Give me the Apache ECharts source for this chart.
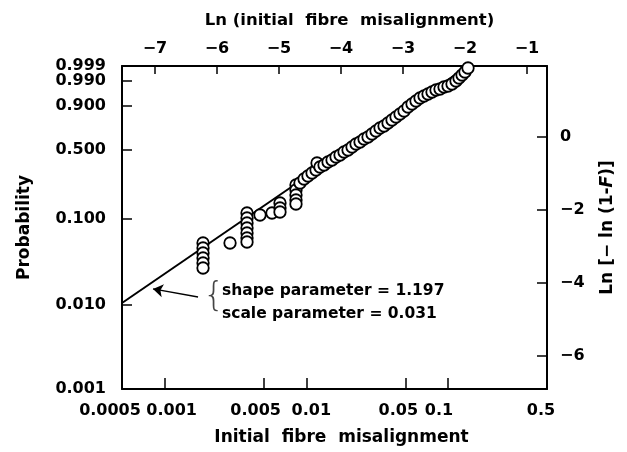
<!DOCTYPE html>
<html>
<head>
<meta charset="utf-8">
<script src="https://cdn.jsdelivr.net/npm/echarts@6/dist/echarts.min.js"></script>
<style>
  html, body { margin: 0; padding: 0; background: #fff; }
  #chart { width: 627px; height: 452px; }
</style>
</head>
<body>
<div id="chart"></div>
<script>
// tick labels
const misalignLabels = ['0.0005', '0.001', '0.005', '0.01', '0.05', '0.1', '0.5'];
const probLabels = ['0.001', '0.010', '0.100', '0.500', '0.900', '0.990', '0.999'];
const lnMisalignTicks = [-7, -6, -5, -4, -3, -2, -1];
const weibullTicks = [-6, -4, -2, 0];
// the printed ln scale on top is drawn slightly offset from the bottom one
const topAxisRange = [-7.532, -0.677];

// measured points: ln(misalignment) and ln[-ln(1-F)]
const pointsLnX = [
  -6.284, -6.284, -6.284, -6.284, -6.284, -6.284,
  -5.845,
  -5.569, -5.569, -5.569, -5.569, -5.569, -5.569, -5.569,
  -5.358, -5.163,
  -5.033, -5.033, -5.033,
  -4.773, -4.773, -4.773, -4.773, -4.773,
  -4.708, -4.642, -4.578, -4.512, -4.447, -4.431, -4.383, -4.317, -4.252, -4.187,
  -4.122, -4.057, -3.992, -3.927, -3.862, -3.797, -3.732, -3.667, -3.602, -3.537,
  -3.472, -3.407, -3.342, -3.277, -3.212, -3.147, -3.082, -3.017, -2.952, -2.887,
  -2.822, -2.757, -2.692, -2.627, -2.562, -2.497, -2.432, -2.367, -2.302, -2.237,
  -2.172, -2.123, -2.074, -2.026, -1.977
];
const pointsLnY = [
  -2.911, -3.048, -3.185, -3.322, -3.459, -3.596,
  -2.911,
  -2.091, -2.227, -2.364, -2.501, -2.638, -2.775, -2.884,
  -2.145, -2.091,
  -1.817, -1.953, -2.063,
  -1.324, -1.461, -1.598, -1.734, -1.844,
  -1.269, -1.160, -1.078, -0.996, -0.914, -0.722, -0.831, -0.777, -0.695, -0.640,
  -0.558, -0.503, -0.421, -0.366, -0.284, -0.202, -0.147, -0.065, -0.010, 0.072,
  0.154, 0.236, 0.291, 0.373, 0.455, 0.537, 0.619, 0.701, 0.811, 0.893,
  0.975, 1.057, 1.112, 1.167, 1.221, 1.276, 1.303, 1.358, 1.385, 1.440,
  1.522, 1.604, 1.686, 1.768, 1.878
];

// fitted weibull line (ends)
const fitLnX = [-7.601, -1.977];
const fitLnY = [-4.553, 1.933];

// arrow pointing at the line
const arrowFrom = [-6.365, -4.389];
const arrowTo = [-7.097, -4.170];

const shapeParam = '1.197';
const scaleParam = '0.031';

// horizontal nudge (px) of the hand-lettered bottom labels
const bottomNudge = { '0.0005': -12, '0.001': 7, '0.005': -8, '0.01': 5, '0.05': -7, '0.1': -9, '0.5': -6 };

const toW = p => Math.log(-Math.log(1 - p));
const misalignPos = misalignLabels.map(s => Math.log(parseFloat(s)));
const probPos = probLabels.map(s => toW(parseFloat(s)));

const xMin = misalignPos[0];
const xMax = misalignPos[misalignPos.length - 1];
const yMin = probPos[0];
const yMax = probPos[probPos.length - 1];

function nearestIdx(v, pos) {
  let best = 0;
  pos.forEach((p, i) => { if (Math.abs(p - v) < Math.abs(pos[best] - v)) best = i; });
  return best;
}
const minus = v => String(v).replace('-', '\u2212');

const FONT = 'DejaVu Sans';
const lbl = {
  color: '#000', fontFamily: FONT, fontWeight: 'bold', fontSize: 16,
  showMinLabel: true, showMaxLabel: true, hideOverlap: false
};
const nm = { color: '#000', fontFamily: FONT, fontWeight: 'bold', fontSize: 17 };
const axLine = { show: true, onZero: false, lineStyle: { color: '#000', width: 2 } };
const tick = (len) => ({ show: true, inside: true, length: len, lineStyle: { color: '#000', width: 1.5 } });

// rich styles used to nudge bottom labels
const bottomRich = {};
misalignLabels.forEach((s, i) => {
  const n = bottomNudge[s] || 0;
  bottomRich['n' + i] = {
    fontFamily: FONT, fontWeight: 'bold', fontSize: 16, color: '#000',
    padding: n < 0 ? [0, -2 * n, 0, 0] : [0, 0, 0, 2 * n]
  };
});
const bottomFmt = v => {
  const i = nearestIdx(v, misalignPos);
  return '{n' + i + '|' + misalignLabels[i] + '}';
};
const probFmt = v => probLabels[nearestIdx(v, probPos)];

// split alternate labels over two axes so crowded neighbours are all kept
const evenIdx = a => a.filter((_, i) => i % 2 === 0);
const oddIdx = a => a.filter((_, i) => i % 2 === 1);

const chart = echarts.init(document.getElementById('chart'));

chart.setOption({
  animation: false,
  backgroundColor: '#fff',
  grid: { left: 122, right: 80, top: 66, bottom: 63, containLabel: false, outerBoundsMode: 'none' },
  xAxis: [
    {
      type: 'value', position: 'bottom', min: xMin, max: xMax,
      axisLine: axLine,
      axisTick: Object.assign(tick(11), { customValues: misalignPos.slice(1, -1) }),
      axisLabel: Object.assign({}, lbl, {
        margin: 14, customValues: evenIdx(misalignPos), formatter: bottomFmt, rich: bottomRich
      }),
      splitLine: { show: false },
      name: 'Initial  fibre  misalignment', nameLocation: 'middle', nameGap: 40,
      nameMoveOverlap: false, nameTextStyle: Object.assign({}, nm, { padding: [0, 0, 0, 14] })
    },
    {
      type: 'value', position: 'top', min: topAxisRange[0], max: topAxisRange[1],
      axisLine: axLine,
      axisTick: Object.assign(tick(8), { customValues: lnMisalignTicks }),
      axisLabel: Object.assign({}, lbl, {
        margin: 9, customValues: lnMisalignTicks, formatter: minus
      }),
      splitLine: { show: false },
      name: 'Ln (initial  fibre  misalignment)', nameLocation: 'middle', nameGap: 37,
      nameMoveOverlap: false,
      nameTextStyle: Object.assign({}, nm, { fontSize: 16.5, padding: [0, 0, 0, 30] })
    },
    {
      type: 'value', position: 'bottom', min: xMin, max: xMax,
      axisLine: { show: false }, axisTick: { show: false },
      axisLabel: Object.assign({}, lbl, {
        margin: 14, customValues: oddIdx(misalignPos), formatter: bottomFmt, rich: bottomRich
      }),
      splitLine: { show: false }
    }
  ],
  yAxis: [
    {
      type: 'value', position: 'left', min: yMin, max: yMax,
      axisLine: axLine,
      axisTick: Object.assign(tick(10), { customValues: probPos.slice(1, -1) }),
      axisLabel: Object.assign({}, lbl, {
        margin: 16, customValues: evenIdx(probPos), formatter: probFmt
      }),
      splitLine: { show: false },
      name: 'Probability', nameLocation: 'middle', nameGap: 89, nameRotate: 90,
      nameMoveOverlap: false, nameTextStyle: nm
    },
    {
      type: 'value', position: 'right', min: yMin, max: yMax,
      axisLine: axLine,
      axisTick: Object.assign(tick(10), { customValues: weibullTicks }),
      axisLabel: Object.assign({}, lbl, {
        margin: 13, customValues: weibullTicks, formatter: minus
      }),
      splitLine: { show: false },
      name: '{a|Ln [\u2212 ln (1-}{b|F}{a|)]}', nameLocation: 'middle', nameGap: 52, nameRotate: 90,
      nameMoveOverlap: false,
      nameTextStyle: Object.assign({}, nm, {
        rich: {
          a: { fontFamily: FONT, fontWeight: 'bold', fontSize: 17, color: '#000' },
          b: { fontFamily: FONT, fontWeight: 'bold', fontStyle: 'italic', fontSize: 17, color: '#000' }
        }
      })
    },
    {
      type: 'value', position: 'left', min: yMin, max: yMax,
      axisLine: { show: false }, axisTick: { show: false },
      axisLabel: Object.assign({}, lbl, {
        margin: 16, customValues: oddIdx(probPos), formatter: probFmt
      }),
      splitLine: { show: false }
    }
  ],
  series: [
    {
      name: 'fit', type: 'line', xAxisIndex: 0, yAxisIndex: 0,
      data: fitLnX.map((x, i) => [x, fitLnY[i]]),
      showSymbol: false, symbol: 'none', silent: true, z: 2,
      lineStyle: { color: '#000', width: 2 },
      markLine: {
        silent: true, symbol: ['none', 'arrow'], symbolSize: 10,
        label: { show: false },
        lineStyle: { color: '#000', width: 1.3, type: 'solid' },
        emphasis: { disabled: true },
        data: [[{ coord: arrowFrom }, { coord: arrowTo }]]
      }
    },
    {
      name: 'data', type: 'scatter', xAxisIndex: 0, yAxisIndex: 0,
      data: pointsLnX.map((x, i) => [x, pointsLnY[i]]),
      symbol: 'circle', symbolSize: 11.5, z: 3,
      itemStyle: { color: '#fff', borderColor: '#000', borderWidth: 1.8, opacity: 1 }
    }
  ],
  graphic: [
    {
      type: 'text', left: 203, top: 280,
      style: { text: '{', fontFamily: FONT, fontSize: 34, fontWeight: 'lighter', fill: '#444' }
    },
    {
      type: 'text', left: 222, top: 283,
      style: { text: 'shape parameter = ' + shapeParam, fontFamily: FONT, fontWeight: 'bold', fontSize: 15.5, fill: '#000' }
    },
    {
      type: 'text', left: 222, top: 306,
      style: { text: 'scale parameter = ' + scaleParam, fontFamily: FONT, fontWeight: 'bold', fontSize: 15.5, fill: '#000' }
    }
  ]
});
</script>
</body>
</html>
